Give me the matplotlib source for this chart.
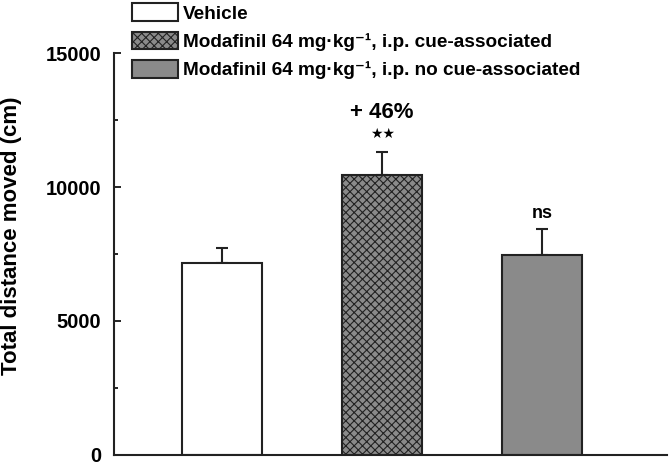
import numpy as np
import matplotlib
matplotlib.use("Agg")
import matplotlib.pyplot as plt

plt.rcParams['font.family'] = ['Liberation Sans', 'DejaVu Sans']
plt.rcParams['font.weight'] = 'bold'
plt.rcParams['hatch.linewidth'] = 0.8

groups = ["Vehicle",
          "Modafinil 64 mg\u00b7kg\u207b\u00b9, i.p. cue-associated",
          "Modafinil 64 mg\u00b7kg\u207b\u00b9, i.p. no cue-associated"]
means = [7180, 10450, 7480]
sem = [560, 850, 960]

fig = plt.figure(figsize=(6.7, 4.66), dpi=100)
ax = fig.add_axes([0.170, 0.024, 0.826, 0.862])

pos = np.arange(1, len(means) + 1)
colors = ['white', '#8a8a8a', '#8a8a8a']
hatches = [None, 'xxxx', None]
for p, m, e, c, h, g in zip(pos, means, sem, colors, hatches, groups):
    ax.bar(p, m, width=0.5, color=c, edgecolor='#222222', linewidth=1.5,
           hatch=h, label=g, zorder=2)
    ax.errorbar(p, m, yerr=[[0], [e]], fmt='none', ecolor='#222222',
                elinewidth=1.5, capsize=4, capthick=1.5, zorder=1)

# significance marks
ax.text(pos[1], 11980, "\u2605\u2605", ha='center', va='center', fontsize=10,
        family=['DejaVu Sans'])
ax.text(pos[1], 12800, "+ 46%", ha='center', va='center', fontsize=16)
ax.text(pos[2], means[2] + sem[2] + 250, "ns", ha='center', va='bottom', fontsize=13)

ax.set_xlim(0.325, 3.78)
ax.set_ylim(0, 15000)
ax.set_yticks([0, 5000, 10000, 15000])
ax.set_yticks([2500, 7500, 12500], minor=True)
ax.tick_params(axis='y', direction='in', length=5, width=1.2, labelsize=14.5, pad=9)
ax.tick_params(axis='y', which='minor', direction='in', length=3, width=1.2)
ax.set_xticks([])
for s in ['top', 'right']:
    ax.spines[s].set_visible(False)
for s in ['left', 'bottom']:
    ax.spines[s].set_linewidth(1.5)
    ax.spines[s].set_color('#222222')
ax.set_ylabel("Total distance moved (cm)", fontsize=16, fontweight='bold')
ax.yaxis.set_label_coords(-0.166, 0.545)

fig.legend(loc='upper left', bbox_to_anchor=(0.197, 0.993), frameon=False,
           fontsize=13.7, handlelength=2.4, handleheight=1.05, handletextpad=0.3,
           labelspacing=0.48, borderaxespad=0, borderpad=0)

fig.savefig("out.png", dpi=100)
